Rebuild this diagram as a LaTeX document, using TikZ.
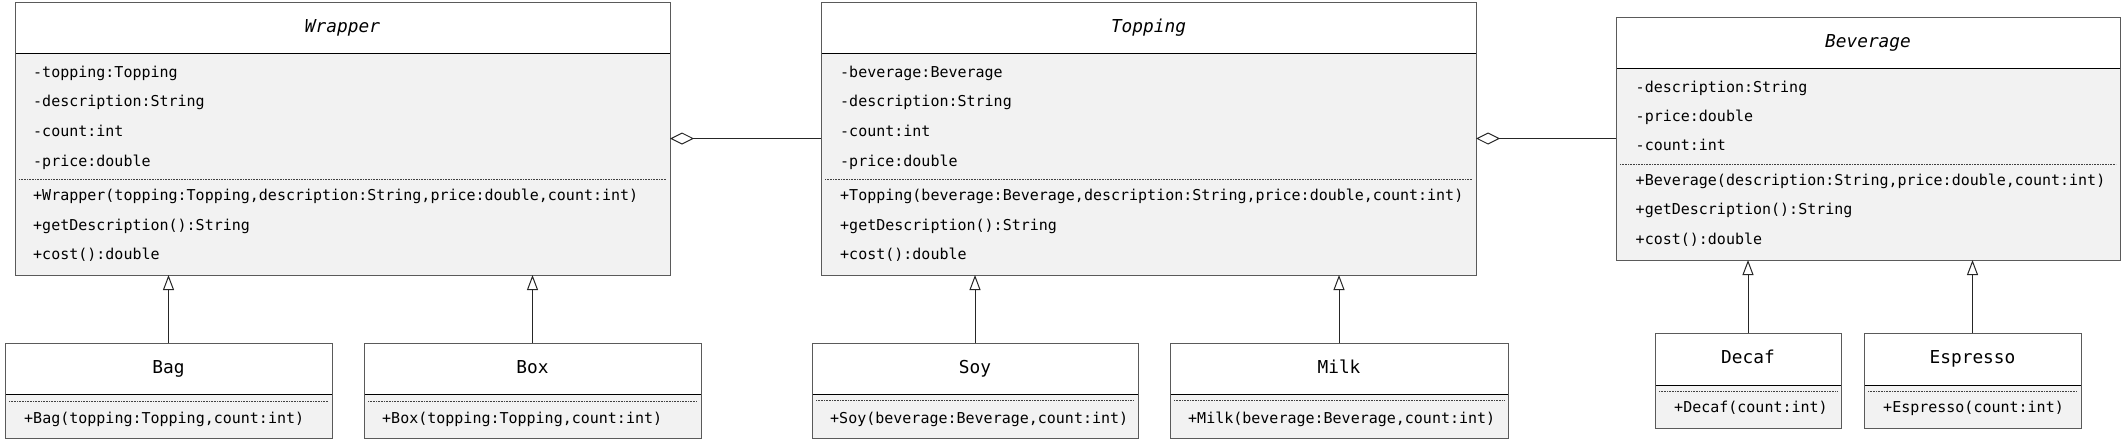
\documentclass[tikz,border=0pt]{standalone}
\usepackage{fontspec}
\setmonofont{DejaVu Sans Mono}
\usetikzlibrary{arrows.meta}
\definecolor{bodyfill}{HTML}{F2F2F2}
\definecolor{bordercol}{HTML}{5A5A5A}
\newcommand\umlbox[7]{%
  \fill[bodyfill] (#2,#6) rectangle (#4,#5);
  \draw[hdrline] (#2,#6) -- (#4,#6);
  \draw[dotline] ({#2+4},#7) -- ({#4-4},#7);
  \node[classbox, minimum width={(#4-#2)*1pt}, minimum height={(#5-#3)*1pt}] (#1) at (#2,#3) {};
}
\begin{document}
\begin{tikzpicture}[x=1pt,y=-1pt,
  classbox/.style={draw=bordercol, line width=1pt, inner sep=0pt, outer sep=0pt, anchor=north west},
  hdrline/.style={draw=black, line width=1pt},
  dotline/.style={draw=black!75, line width=0.8pt, dash pattern=on 0.8pt off 0.8pt},
  txt/.style={font=\ttfamily\fontsize{15}{18}\selectfont, anchor=west, inner sep=0pt, text height=11pt, text depth=3.5pt},
  nm/.style={font=\ttfamily\fontsize{17.8}{20}\selectfont, inner sep=0pt, text height=13pt, text depth=4pt},
  gen/.style={draw=black!85, line width=1pt, -{Triangle[open,length=15pt,width=11pt]}},
  agg/.style={draw=black!85, line width=1pt, -{Diamond[open,length=24pt,width=12pt]}}
]
\useasboundingbox (0,0) rectangle (2125,440);

% ---------- Wrapper ----------
\umlbox{wrapper}{15}{2}{670}{275}{53}{179}
\node[nm, font=\ttfamily\itshape\fontsize{17.8}{20}\selectfont] (wrappername) at (342.5,27.5) {Wrapper};
\node[txt] (w1) at (33,73.3) {-topping:Topping};
\node[txt] (w2) at (33,102.3) {-description:String};
\node[txt] (w3) at (33,132.3) {-count:int};
\node[txt] (w4) at (33,162.3) {-price:double};
\node[txt] (w5) at (33,196.7) {+Wrapper(topping:Topping,description:String,price:double,count:int)};
\node[txt] (w6) at (33,226.7) {+getDescription():String};
\node[txt] (w7) at (33,255.3) {+cost():double};

% ---------- Topping ----------
\umlbox{topping}{821}{2}{1476}{275}{53}{179}
\node[nm, font=\ttfamily\itshape\fontsize{17.8}{20}\selectfont] (toppingname) at (1148.5,27.5) {Topping};
\node[txt] (t1) at (840,73.3) {-beverage:Beverage};
\node[txt] (t2) at (840,102.3) {-description:String};
\node[txt] (t3) at (840,132.3) {-count:int};
\node[txt] (t4) at (840,162.3) {-price:double};
\node[txt] (t5) at (840,196.7) {+Topping(beverage:Beverage,description:String,price:double,count:int)};
\node[txt] (t6) at (840,226.7) {+getDescription():String};
\node[txt] (t7) at (840,255.3) {+cost():double};

% ---------- Beverage ----------
\umlbox{beverage}{1616}{17}{2120}{260}{68}{164}
\node[nm, font=\ttfamily\itshape\fontsize{17.8}{20}\selectfont] (beveragename) at (1868,42.5) {Beverage};
\node[txt] (b1) at (1635.5,88.3) {-description:String};
\node[txt] (b2) at (1635.5,117.3) {-price:double};
\node[txt] (b3) at (1635.5,147) {-count:int};
\node[txt] (b4) at (1635.5,181.3) {+Beverage(description:String,price:double,count:int)};
\node[txt] (b5) at (1635.5,211) {+getDescription():String};
\node[txt] (b6) at (1635.5,241) {+cost():double};

% ---------- Subclasses ----------
\umlbox{bag}{5}{343}{332}{438}{394}{401}
\node[nm] (bagname) at (168.5,369) {Bag};
\node[txt] (bagm) at (24,419.3) {+Bag(topping:Topping,count:int)};

\umlbox{boxc}{364}{343}{701}{438}{394}{401}
\node[nm] (boxname) at (532.5,369) {Box};
\node[txt] (boxm) at (382,419.3) {+Box(topping:Topping,count:int)};

\umlbox{soy}{812}{343}{1138}{438}{394}{400}
\node[nm] (soyname) at (975,369) {Soy};
\node[txt] (soym) at (830,419.3) {+Soy(beverage:Beverage,count:int)};

\umlbox{milk}{1170}{343}{1508}{438}{394}{400}
\node[nm] (milkname) at (1339,369) {Milk};
\node[txt] (milkm) at (1188,419.3) {+Milk(beverage:Beverage,count:int)};

\umlbox{decaf}{1655}{333}{1841}{428}{385}{391}
\node[nm] (decafname) at (1748,359) {Decaf};
\node[txt] (decafm) at (1674,409) {+Decaf(count:int)};

\umlbox{espresso}{1864}{333}{2081}{428}{385}{391}
\node[nm] (espressoname) at (1972.5,359) {Espresso};
\node[txt] (espressom) at (1883,409) {+Espresso(count:int)};

% ---------- Generalizations ----------
\draw[gen] (bag.north) -- (bag.north |- wrapper.south);
\draw[gen] (boxc.north) -- (boxc.north |- wrapper.south);
\draw[gen] (soy.north) -- (soy.north |- topping.south);
\draw[gen] (milk.north) -- (milk.north |- topping.south);
\draw[gen] (decaf.north) -- (decaf.north |- beverage.south);
\draw[gen] (espresso.north) -- (espresso.north |- beverage.south);

% ---------- Aggregations ----------
\draw[agg] (topping.west) -- (wrapper.east);
\draw[agg] (beverage.west) -- (topping.east);
\end{tikzpicture}
\end{document}
